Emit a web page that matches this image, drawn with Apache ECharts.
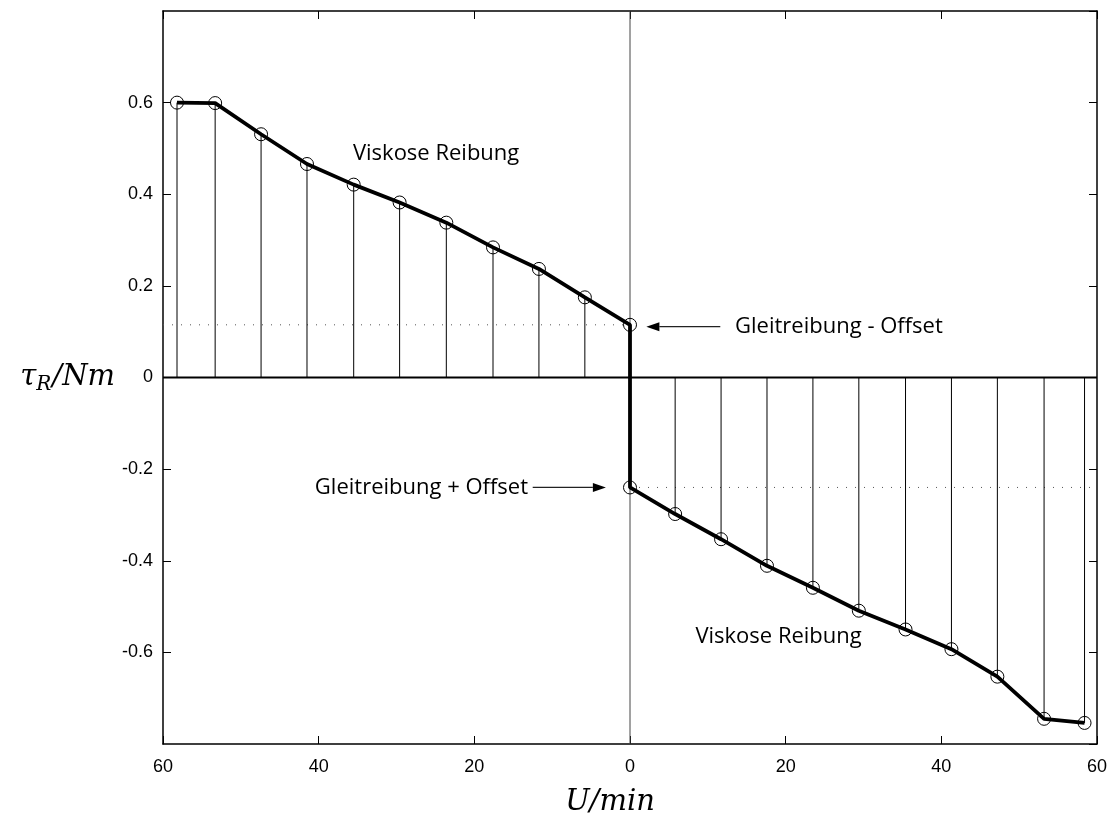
<!DOCTYPE html>
<html><head><meta charset="utf-8">
<script src="https://cdn.jsdelivr.net/npm/echarts@6/dist/echarts.min.js"></script>
<style>html,body{margin:0;padding:0;background:#fff}#c{width:1113px;height:822px}</style>
</head><body><div id="c"></div>
<script>
// Drehzahl (negative = linke Drehrichtung) und Reibmoment
const leftSpeed  = [-58.2, -53.3, -47.4, -41.5, -35.5, -29.6, -23.6, -17.6, -11.7, -5.8, 0];
const leftTorque = [0.600, 0.599, 0.531, 0.466, 0.421, 0.382, 0.338, 0.284, 0.237, 0.175, 0.115];
const rightSpeed  = [0, 5.8, 11.7, 17.6, 23.5, 29.4, 35.4, 41.3, 47.2, 53.2, 58.4];
const rightTorque = [-0.240, -0.298, -0.353, -0.411, -0.459, -0.509, -0.550, -0.593, -0.653, -0.745, -0.754];
const offsetPos = 0.115;
const offsetNeg = -0.240;
const xTickValues = [-60, -40, -20, 0, 20, 40, 60];
const xTickLabels = ['60', '40', '20', '0', '20', '40', '60'];
const yTickValues = [-0.6, -0.4, -0.2, 0, 0.2, 0.4, 0.6];
const yTickLabels = ['-0.6', '-0.4', '-0.2', '0', '0.2', '0.4', '0.6'];
const annoTexts = ['Viskose Reibung', 'Viskose Reibung', 'Gleitreibung - Offset', 'Gleitreibung + Offset'];
const annoX = [-35.6, 8.4, 13.5, -13.1];
const annoY = [0.489, -0.565, 0.111, -0.240];
const annoAlign = ['left', 'left', 'left', 'right'];
const arrowFromX = [11.6, -12.5];
const arrowToX = [2.1, -3.1];
const arrowY = [0.111, -0.240];

const pts = leftSpeed.map((x, i) => [x, leftTorque[i]]).concat(rightSpeed.map((x, i) => [x, rightTorque[i]]));

function tickLabel(vals, labs) {
  return v => { for (let i = 0; i < vals.length; i++) if (Math.abs(v - vals[i]) < 1e-6) return labs[i]; return ''; };
}
const tickFont = {fontFamily: '"Liberation Sans", Arial, sans-serif', fontSize: 18, color: '#000'};
const axisLineStyle = {show: true, onZero: false, lineStyle: {color: '#000', width: 1.5}};
const tickStyle = {show: true, inside: true, length: 8, lineStyle: {color: '#000', width: 1}};
const mathFont = '"DejaVu Serif", serif';

const chart = echarts.init(document.getElementById('c'), null, {renderer: 'canvas'});
chart.setOption({
  animation: false,
  backgroundColor: '#fff',
  grid: {left: 163, right: 16, top: 11, bottom: 77},
  xAxis: [
    {type: 'value', min: -60, max: 60, interval: 20, position: 'bottom',
     axisLine: axisLineStyle, axisTick: tickStyle, splitLine: {show: false},
     axisLabel: Object.assign({margin: 14, formatter: tickLabel(xTickValues, xTickLabels)}, tickFont),
     name: 'U/min', nameLocation: 'middle', nameGap: 44,
     nameTextStyle: {fontFamily: mathFont, fontStyle: 'italic', fontSize: 29, color: '#000', padding: [0, 40, 0, 0]}},
    {type: 'value', min: -60, max: 60, interval: 20, position: 'top',
     axisLine: axisLineStyle, axisTick: tickStyle, splitLine: {show: false}, axisLabel: {show: false}}
  ],
  yAxis: [
    {type: 'value', min: -0.8, max: 0.8, interval: 0.2, position: 'left',
     axisLine: axisLineStyle, axisTick: tickStyle, splitLine: {show: false},
     axisLabel: Object.assign({margin: 10, showMinLabel: false, showMaxLabel: false, formatter: tickLabel(yTickValues, yTickLabels)}, tickFont),
     name: '{t|τ}{s|R}{t|/Nm}', nameLocation: 'middle', nameRotate: 0, nameGap: 48,
     nameTextStyle: {rich: {
       t: {fontFamily: mathFont, fontStyle: 'italic', fontSize: 29, color: '#000'},
       s: {fontFamily: mathFont, fontStyle: 'italic', fontSize: 20, color: '#000', padding: [15, 1, 0, 0]}
     }}},
    {type: 'value', min: -0.8, max: 0.8, interval: 0.2, position: 'right',
     axisLine: axisLineStyle, axisTick: tickStyle, splitLine: {show: false}, axisLabel: {show: false}}
  ],
  series: [
    {type: 'line', data: [[-60, 0], [60, 0]], symbol: 'none', lineStyle: {color: '#000', width: 2}, z: 2, silent: true},
    {type: 'line', data: [[0, -0.8], [0, 0.8]], symbol: 'none', lineStyle: {color: '#444', width: 1}, z: 2, silent: true},
    {type: 'line', data: [[-60, offsetPos], [0, offsetPos]], symbol: 'none', lineStyle: {color: '#555', width: 1, type: [1, 8]}, z: 2, silent: true},
    {type: 'line', data: [[0, offsetNeg], [60, offsetNeg]], symbol: 'none', lineStyle: {color: '#555', width: 1, type: [1, 8]}, z: 2, silent: true},
    {type: 'custom', data: pts, z: 3, silent: true,
     renderItem: (params, api) => {
       const a = api.coord([api.value(0), 0]);
       const b = api.coord([api.value(0), api.value(1)]);
       return {type: 'line', shape: {x1: a[0], y1: a[1], x2: b[0], y2: b[1]}, style: {stroke: '#000', lineWidth: 1}};
     }},
    {type: 'line', data: pts, symbol: 'circle', symbolSize: 13, z: 5,
     lineStyle: {color: '#000', width: 3.8},
     itemStyle: {color: 'rgba(0,0,0,0)', borderColor: '#000', borderWidth: 1}},
    {type: 'custom', data: arrowFromX.map((x, i) => [x, arrowY[i], arrowToX[i]]), z: 6, silent: true,
     renderItem: (params, api) => {
       const a = api.coord([api.value(0), api.value(1)]);
       const b = api.coord([api.value(2), api.value(1)]);
       const dir = b[0] > a[0] ? 1 : -1;
       const L = 13, W = 4.5;
       return {type: 'group', children: [
         {type: 'line', shape: {x1: a[0], y1: a[1], x2: b[0] - dir * L, y2: b[1]}, style: {stroke: '#222', lineWidth: 1.2}},
         {type: 'polygon', shape: {points: [[b[0], b[1]], [b[0] - dir * L, b[1] - W], [b[0] - dir * L, b[1] + W]]}, style: {fill: '#000'}}
       ]};
     }},
    {type: 'custom', data: annoX.map((x, i) => [x, annoY[i]]), z: 7, silent: true,
     renderItem: (params, api) => {
       const i = params.dataIndex;
       const p = api.coord([api.value(0), api.value(1)]);
       return {type: 'text', x: p[0], y: p[1], style: {text: annoTexts[i], fontFamily: '"Open Sans", sans-serif', fontSize: 22, fill: '#000', align: annoAlign[i], verticalAlign: 'middle'}};
     }}
  ]
});
</script>
</body></html>
